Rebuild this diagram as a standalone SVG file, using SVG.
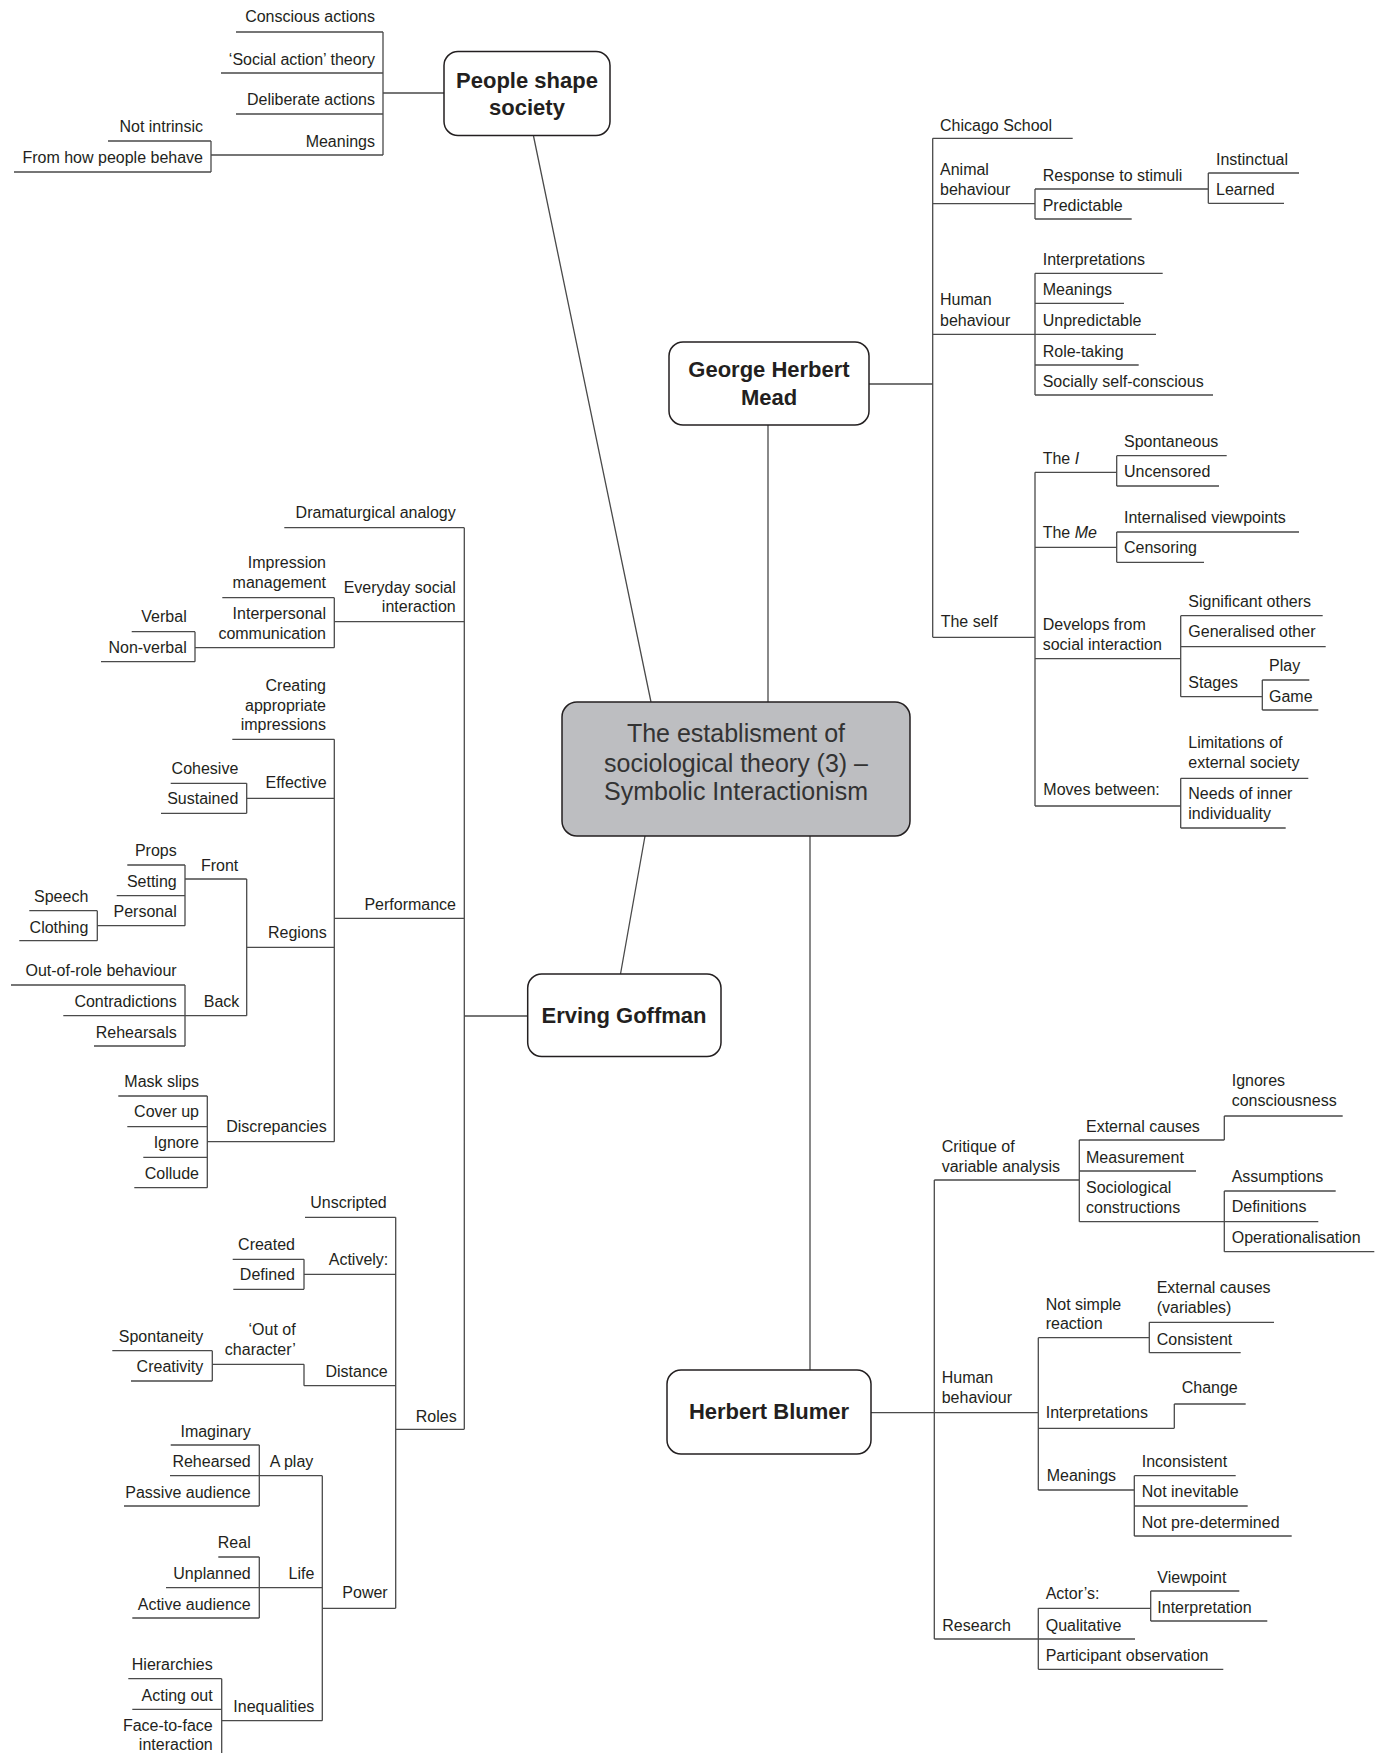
<svg xmlns="http://www.w3.org/2000/svg" width="1383" height="1753" viewBox="0 0 1383 1753">
<style>
.ln{fill:none;stroke:#4a4a4a;stroke-width:1.3}
.box{fill:#fff;stroke:#231f20;stroke-width:1.5}
.cbox{fill:#bdbec1;stroke:#231f20;stroke-width:1.5}
text{font-family:"Liberation Sans",Arial,sans-serif;font-size:16px;fill:#231f20}
.r{text-anchor:end}
.h{font-weight:bold;font-size:22px;text-anchor:middle}
.c{font-size:25px;text-anchor:middle;fill:#333}
.i{font-style:italic}
</style>
<rect width="1383" height="1753" fill="#fff"/>
<g id="connectors">
<path class="ln" d="M533.5,136 L651,702 M768,425 V702 M645,836 L620.5,974 M810,836 V1370"/>
<!-- People shape society -->
<path class="ln" d="M236,32 H383 M221,73 H383 M236,114 H383 M211,155 H383 M383,32 V155 M383,93 H444 M108,141 H211 M14,172 H211 M211,141 V172"/>
<!-- Mead -->
<path class="ln" d="M869,384 H932.7 M932.7,138.3 V637.3 M932.7,138.3 H1072.7 M932.7,203.7 H1035 M1035,189 V219 M1035,189 H1208.3 M1035,219 H1131.7 M1208.3,173 V203.3 M1208.3,173 H1299 M1208.3,203.3 H1284
M932.7,334.3 H1035 M1035,273.3 V395 M1035,273.3 H1162.7 M1035,303.3 H1124 M1035,334.3 H1156 M1035,365 H1138.7 M1035,395 H1213
M932.7,637.3 H1035 M1035,472.3 V806 M1035,472.3 H1116.7 M1116.7,455.7 V486 M1116.7,455.7 H1226.7 M1116.7,486 H1219
M1035,547.3 H1116.7 M1116.7,532 V562.3 M1116.7,532 H1299 M1116.7,562.3 H1204
M1035,658.7 H1180.7 M1180.7,615.7 V696.7 M1180.7,615.7 H1322.7 M1180.7,646.7 H1325.7 M1180.7,696.7 H1262.3 M1262.3,680 V710 M1262.3,680 H1309.3 M1262.3,710 H1318.3
M1035,806 H1180.7 M1180.7,778.3 V828 M1180.7,778.3 H1308.3 M1180.7,828 H1285.7"/>
<!-- Goffman -->
<path class="ln" d="M464.3,527.7 V1429.3 M464.3,1016 H527.7 M284.3,527.7 H464.3 M334.3,621.7 H464.3 M334.3,597.7 V647.7 M222.3,597.7 H334.3 M195,647.7 H334.3 M195,631.7 V661.7 M131.7,631.7 H195 M101,661.7 H195
M334.3,739.3 V1141.7 M232.3,739.3 H334.3 M246.7,798.3 H334.3 M246.7,783.3 V813.3 M170.7,783.3 H246.7 M161,813.3 H246.7
M334.3,918.3 H464.3 M246.7,947.3 H334.3 M246.7,879 V1015.7 M185,879 H246.7 M185,865 V925.7 M127.3,865 H185 M116.7,895.7 H185 M97.3,925.7 H185 M97.3,910.7 V940.7 M29.3,910.7 H97.3 M19.3,940.7 H97.3
M185,985 V1046 M11,985 H185 M63.3,1015.7 H246.7 M94,1046 H185
M207.3,1141.7 H334.3 M207.3,1096 V1187.7 M118.3,1096 H207.3 M127.3,1126.7 H207.3 M143.3,1157.3 H207.3 M134.3,1187.7 H207.3
M395.7,1217.3 V1608.3 M305,1217.3 H395.7 M304,1274.3 H395.7 M304,1259.3 V1289.3 M232.7,1259.3 H304 M233.3,1289.3 H304
M304,1385.7 H395.7 M304,1364.3 V1385.7 M212.3,1364.3 H304 M212.3,1350.7 V1381 M112.3,1350.7 H212.3 M131,1381 H212.3
M395.7,1429.3 H464.3 M322.3,1608.3 H395.7 M322.3,1475.7 V1720.7 M170,1475.7 H322.3 M259.3,1445 V1506 M170.7,1445 H259.3 M124,1506 H259.3
M166,1587.7 H322.3 M259.3,1557 V1618 M218.3,1557 H259.3 M132.3,1618 H259.3
M221.7,1720.7 H322.3 M221.7,1678.7 V1753 M128.3,1678.7 H221.7 M132.3,1709.3 H221.7"/>
<!-- Blumer -->
<path class="ln" d="M870.7,1412.7 H934.3 M934.3,1180 V1639 M934.3,1180 H1079.3 M1079.3,1140 V1221.7 M1079.3,1140 H1224.3 M1224.3,1116 V1140 M1224.3,1116 H1342.7 M1079.3,1171 H1196 M1079.3,1221.7 H1318.3 M1224.3,1191 V1251.7 M1224.3,1191 H1335.7 M1224.3,1251.7 H1374.3
M934.3,1412.7 H1038.3 M1038.3,1337.7 V1490 M1038.3,1337.7 H1149.3 M1149.3,1322.3 V1352.7 M1149.3,1322.3 H1274 M1149.3,1352.7 H1240.7
M1038.3,1428.3 H1174.3 M1174.3,1404 V1428.3 M1174.3,1404 H1245.7
M1038.3,1490 H1134.3 M1134.3,1475.7 V1536 M1134.3,1475.7 H1235.7 M1134.3,1506 H1247.7 M1134.3,1536 H1291.7
M934.3,1639 H1038.3 M1038.3,1608.3 V1669.3 M1038.3,1608.3 H1150.7 M1150.7,1591 V1621 M1150.7,1591 H1239.3 M1150.7,1621 H1267.3 M1038.3,1639 H1135 M1038.3,1669.3 H1223.3"/>
</g>

<g id="central"><rect class="cbox" x="562" y="702" width="348" height="134" rx="15"/>
<text class="c" x="736" y="742">The establisment of</text>
<text class="c" x="736" y="772">sociological theory (3) –</text>
<text class="c" x="736" y="800">Symbolic Interactionism</text></g>
<g id="people"><rect class="box" x="444" y="51.5" width="166" height="84" rx="14"/>
<text class="h" x="527" y="88">People shape</text><text class="h" x="527" y="115">society</text></g>
<g id="mead"><rect class="box" x="669" y="342" width="200" height="83" rx="14"/>
<text class="h" x="769" y="377">George Herbert</text><text class="h" x="769" y="405">Mead</text></g>
<g id="goffman"><rect class="box" x="527.7" y="974" width="193.3" height="82.5" rx="14"/>
<text class="h" x="624" y="1022.6">Erving Goffman</text></g>
<g id="blumer"><rect class="box" x="667" y="1370" width="204" height="84" rx="14"/>
<text class="h" x="769" y="1418.6">Herbert Blumer</text></g>

<g id="people-labels">
<g id="p1"><text class="r" x="375" y="22">Conscious actions</text></g>
<g id="p2"><text class="r" x="375" y="65">‘Social action’ theory</text></g>
<g id="p3"><text class="r" x="375" y="105">Deliberate actions</text></g>
<g id="p4"><text class="r" x="375" y="147">Meanings</text></g>
<g id="p5"><text class="r" x="203" y="132">Not intrinsic</text></g>
<g id="p6"><text class="r" x="203" y="163">From how people behave</text></g>
</g>

<g id="mead-labels">
<g id="m1"><text x="940" y="130.7">Chicago School</text></g>
<g id="m2"><text x="940" y="175">Animal</text><text x="940" y="195">behaviour</text></g>
<g id="m3"><text x="1042.7" y="181">Response to stimuli</text></g>
<g id="m4"><text x="1042.7" y="211">Predictable</text></g>
<g id="m5"><text x="1216" y="165">Instinctual</text></g>
<g id="m6"><text x="1216" y="195">Learned</text></g>
<g id="m7"><text x="940" y="305">Human</text><text x="940" y="325.7">behaviour</text></g>
<g id="m8"><text x="1042.7" y="265">Interpretations</text></g>
<g id="m9"><text x="1042.7" y="295">Meanings</text></g>
<g id="m10"><text x="1042.7" y="326">Unpredictable</text></g>
<g id="m11"><text x="1042.7" y="356.7">Role-taking</text></g>
<g id="m12"><text x="1042.7" y="386.7">Socially self-conscious</text></g>
<g id="m13"><text x="940.7" y="627.3">The self</text></g>
<g id="m14"><text x="1042.7" y="464.3">The <tspan class="i">I</tspan></text></g>
<g id="m15"><text x="1124" y="446.7">Spontaneous</text></g>
<g id="m16"><text x="1124" y="477.3">Uncensored</text></g>
<g id="m17"><text x="1042.7" y="537.7">The <tspan class="i">Me</tspan></text></g>
<g id="m18"><text x="1124" y="522.7">Internalised viewpoints</text></g>
<g id="m19"><text x="1124" y="553.3">Censoring</text></g>
<g id="m20"><text x="1042.7" y="630">Develops from</text><text x="1042.7" y="650">social interaction</text></g>
<g id="m21"><text x="1188.3" y="606.7">Significant others</text></g>
<g id="m22"><text x="1188.3" y="637.3">Generalised other</text></g>
<g id="m23"><text x="1188.3" y="688.3">Stages</text></g>
<g id="m24"><text x="1269" y="670.7">Play</text></g>
<g id="m25"><text x="1269" y="701.7">Game</text></g>
<g id="m26"><text x="1043.3" y="795">Moves between:</text></g>
<g id="m27"><text x="1188.3" y="748.3">Limitations of</text><text x="1188.3" y="768.3">external society</text></g>
<g id="m28"><text x="1188.3" y="799.3">Needs of inner</text><text x="1188.3" y="819">individuality</text></g>
</g>

<g id="goffman-labels">
<g id="g1"><text class="r" x="455.7" y="518.3">Dramaturgical analogy</text></g>
<g id="g2"><text class="r" x="455.7" y="592.7">Everyday social</text><text class="r" x="455.7" y="611.7">interaction</text></g>
<g id="g3"><text class="r" x="326" y="568.3">Impression</text><text class="r" x="326" y="587.7">management</text></g>
<g id="g4"><text class="r" x="326" y="619.3">Interpersonal</text><text class="r" x="326" y="639">communication</text></g>
<g id="g5"><text class="r" x="186.7" y="622.3">Verbal</text></g>
<g id="g6"><text class="r" x="186.7" y="653.3">Non-verbal</text></g>
<g id="g7"><text class="r" x="326" y="691">Creating</text><text class="r" x="326" y="710.7">appropriate</text><text class="r" x="326" y="730">impressions</text></g>
<g id="g8"><text class="r" x="238.3" y="774.3">Cohesive</text></g>
<g id="g9"><text class="r" x="238.3" y="804.3">Sustained</text></g>
<g id="g10"><text class="r" x="326.7" y="788.3">Effective</text></g>
<g id="g11"><text class="r" x="176.7" y="855.7">Props</text></g>
<g id="g12"><text class="r" x="176.7" y="886.7">Setting</text></g>
<g id="g13"><text class="r" x="176.7" y="917.3">Personal</text></g>
<g id="g14"><text class="r" x="88.3" y="901.7">Speech</text></g>
<g id="g15"><text class="r" x="88.3" y="932.7">Clothing</text></g>
<g id="g16"><text class="r" x="238.3" y="871">Front</text></g>
<g id="g17"><text class="r" x="326.7" y="938.3">Regions</text></g>
<g id="g18"><text class="r" x="456" y="910">Performance</text></g>
<g id="g19"><text class="r" x="176.7" y="976">Out-of-role behaviour</text></g>
<g id="g20"><text class="r" x="176.7" y="1006.7">Contradictions</text></g>
<g id="g21"><text class="r" x="239.3" y="1006.7">Back</text></g>
<g id="g22"><text class="r" x="176.7" y="1037.7">Rehearsals</text></g>
<g id="g23"><text class="r" x="326.7" y="1131.7">Discrepancies</text></g>
<g id="g24"><text class="r" x="199" y="1086.7">Mask slips</text></g>
<g id="g25"><text class="r" x="199" y="1117.3">Cover up</text></g>
<g id="g26"><text class="r" x="199" y="1148.3">Ignore</text></g>
<g id="g27"><text class="r" x="199" y="1179">Collude</text></g>
<g id="g28"><text class="r" x="386.7" y="1208.3">Unscripted</text></g>
<g id="g29"><text class="r" x="295" y="1250">Created</text></g>
<g id="g30"><text class="r" x="295" y="1280">Defined</text></g>
<g id="g31"><text class="r" x="388.3" y="1265">Actively:</text></g>
<g id="g32"><text class="r" x="203.3" y="1341.7">Spontaneity</text></g>
<g id="g33"><text class="r" x="203.3" y="1371.7">Creativity</text></g>
<g id="g34"><text class="r" x="295.7" y="1335">‘Out of</text><text class="r" x="295.7" y="1355">character’</text></g>
<g id="g35"><text class="r" x="387.7" y="1376.7">Distance</text></g>
<g id="g36"><text class="r" x="456.7" y="1421.7">Roles</text></g>
<g id="g37"><text class="r" x="250.7" y="1436.7">Imaginary</text></g>
<g id="g38"><text class="r" x="250.7" y="1467.3">Rehearsed</text></g>
<g id="g39"><text class="r" x="313.3" y="1467.3">A play</text></g>
<g id="g40"><text class="r" x="250.7" y="1498.3">Passive audience</text></g>
<g id="g41"><text class="r" x="250.7" y="1548.3">Real</text></g>
<g id="g42"><text class="r" x="250.7" y="1579.3">Unplanned</text></g>
<g id="g43"><text class="r" x="314.3" y="1579.3">Life</text></g>
<g id="g44"><text class="r" x="250.7" y="1610">Active audience</text></g>
<g id="g45"><text class="r" x="387.7" y="1598.3">Power</text></g>
<g id="g46"><text class="r" x="212.7" y="1670">Hierarchies</text></g>
<g id="g47"><text class="r" x="212.7" y="1701">Acting out</text></g>
<g id="g48"><text class="r" x="314.3" y="1711.7">Inequalities</text></g>
<g id="g49"><text class="r" x="212.7" y="1731">Face-to-face</text><text class="r" x="212.7" y="1750">interaction</text></g>
</g>

<g id="blumer-labels">
<g id="b1"><text x="941.7" y="1151.7">Critique of</text><text x="941.7" y="1171.7">variable analysis</text></g>
<g id="b2"><text x="1086" y="1131.7">External causes</text></g>
<g id="b3"><text x="1231.7" y="1086">Ignores</text><text x="1231.7" y="1106">consciousness</text></g>
<g id="b4"><text x="1086" y="1162.7">Measurement</text></g>
<g id="b5"><text x="1086" y="1192.7">Sociological</text><text x="1086" y="1212.7">constructions</text></g>
<g id="b6"><text x="1231.7" y="1181.7">Assumptions</text></g>
<g id="b7"><text x="1231.7" y="1212.3">Definitions</text></g>
<g id="b8"><text x="1231.7" y="1243.3">Operationalisation</text></g>
<g id="b9"><text x="941.7" y="1382.7">Human</text><text x="941.7" y="1402.7">behaviour</text></g>
<g id="b10"><text x="1045.7" y="1310">Not simple</text><text x="1045.7" y="1329.3">reaction</text></g>
<g id="b11"><text x="1156.7" y="1293.3">External causes</text><text x="1156.7" y="1313.3">(variables)</text></g>
<g id="b12"><text x="1156.7" y="1345">Consistent</text></g>
<g id="b13"><text x="1045.7" y="1418.3">Interpretations</text></g>
<g id="b14"><text x="1181.7" y="1393.3">Change</text></g>
<g id="b15"><text x="1046.7" y="1480.7">Meanings</text></g>
<g id="b16"><text x="1141.7" y="1466.7">Inconsistent</text></g>
<g id="b17"><text x="1141.7" y="1497.3">Not inevitable</text></g>
<g id="b18"><text x="1141.7" y="1527.7">Not pre-determined</text></g>
<g id="b19"><text x="942.3" y="1630.7">Research</text></g>
<g id="b20"><text x="1045.7" y="1599.3">Actor’s:</text></g>
<g id="b21"><text x="1157.3" y="1582.7">Viewpoint</text></g>
<g id="b22"><text x="1157.3" y="1612.7">Interpretation</text></g>
<g id="b23"><text x="1045.7" y="1630.7">Qualitative</text></g>
<g id="b24"><text x="1045.7" y="1661">Participant observation</text></g>
</g>
</svg>
